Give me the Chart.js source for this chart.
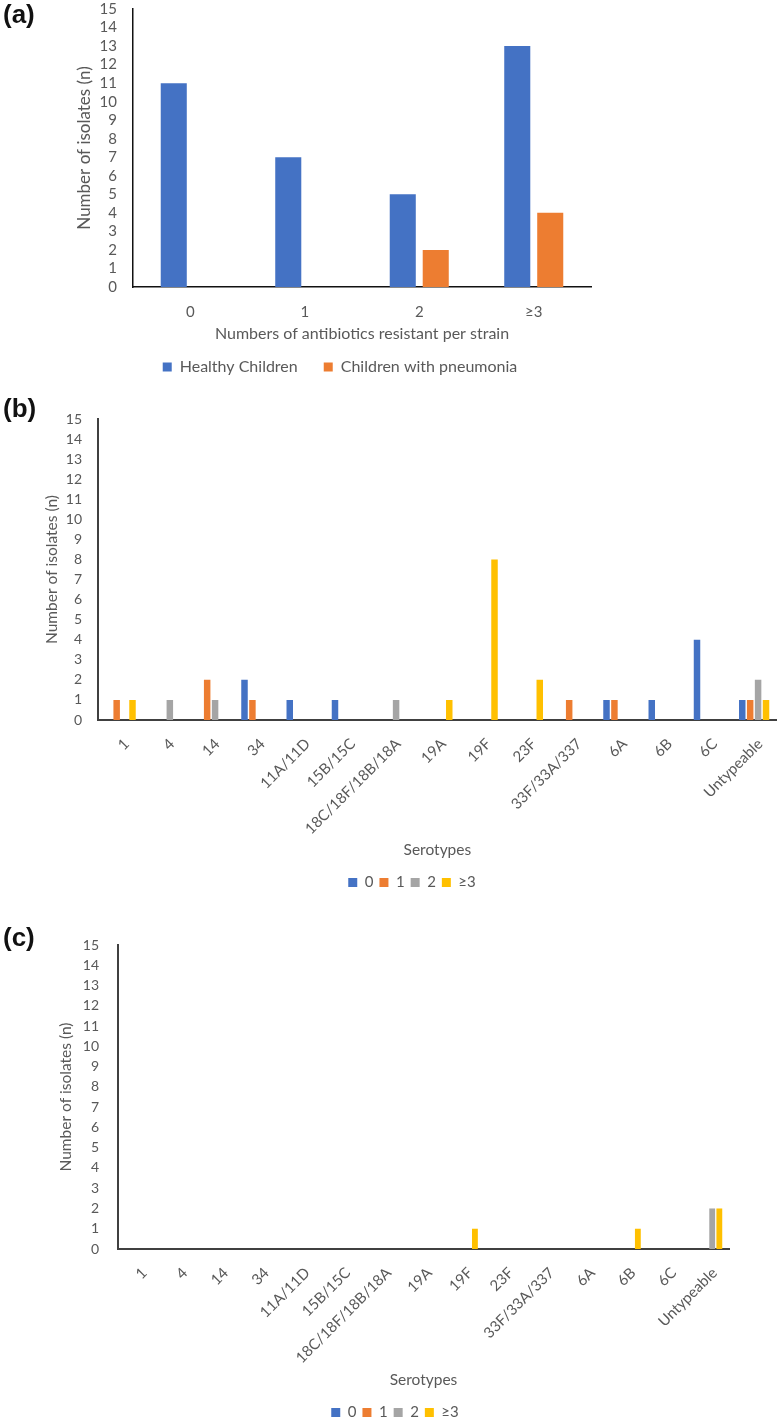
<!DOCTYPE html>
<html>
<head>
<meta charset="utf-8">
<script src="https://cdn.jsdelivr.net/npm/chart.js@4.4.1/dist/chart.umd.min.js"></script>
<style>
  body { margin: 0; background: #fff; width: 782px; height: 1424px; overflow: hidden; position: relative; }
  canvas { position: absolute; left: 0; }
  .panel-tag { position: absolute; left: 3px; font: bold 26px "Liberation Sans", Arial, sans-serif; color: #111; z-index: 2; }
</style>
</head>
<body>
<div class="panel-tag" style="top:-1px">(a)</div>
<canvas id="chartA" width="782" height="395" style="top:0"></canvas>
<div class="panel-tag" style="top:393px">(b)</div>
<canvas id="chartB" width="782" height="500" style="top:400px"></canvas>
<div class="panel-tag" style="top:922px">(c)</div>
<canvas id="chartC" width="782" height="530" style="top:900px"></canvas>

<script>
// (a) antibiotics resistant per strain
const resistanceLabels = ['0', '1', '2', '≥3'];
const healthyCounts = [11, 7, 5, 13];
const pneumoniaCounts = [0, 0, 2, 4];

// (b) and (c) serotypes
const serotypeLabels = ['1', '4', '14', '34', '11A/11D', '15B/15C', '18C/18F/18B/18A', '19A', '19F', '23F', '33F/33A/337', '6A', '6B', '6C', 'Untypeable'];
const groupLabels = ['0', '1', '2', '≥3'];

// (b) healthy children, one array per resistance group
const healthyGroup0 = [0, 0, 0, 2, 1, 1, 0, 0, 0, 0, 0, 1, 1, 4, 1];
const healthyGroup1 = [1, 0, 2, 1, 0, 0, 0, 0, 0, 0, 1, 1, 0, 0, 1];
const healthyGroup2 = [0, 1, 1, 0, 0, 0, 1, 0, 0, 0, 0, 0, 0, 0, 2];
const healthyGroup3 = [1, 0, 0, 0, 0, 0, 0, 1, 8, 2, 0, 0, 0, 0, 1];

// (c) children with pneumonia
const pneumoniaGroup0 = [0, 0, 0, 0, 0, 0, 0, 0, 0, 0, 0, 0, 0, 0, 0];
const pneumoniaGroup1 = [0, 0, 0, 0, 0, 0, 0, 0, 0, 0, 0, 0, 0, 0, 0];
const pneumoniaGroup2 = [0, 0, 0, 0, 0, 0, 0, 0, 0, 0, 0, 0, 0, 0, 2];
const pneumoniaGroup3 = [0, 0, 0, 0, 0, 0, 0, 0, 1, 0, 0, 0, 1, 0, 2];

const yTickValues = [0, 15]; // min / max of the count axis

const textColor = '#595959';
const fontFamily = 'Lato, "Open Sans", sans-serif';
const groupColors = ['#4472C4', '#ED7D31', '#A5A5A5', '#FFC000'];

// Panel (a)
new Chart(document.getElementById('chartA'), {
    type: 'bar',
    data: {
        labels: resistanceLabels,
        datasets: [
            { label: 'Healthy Children', data: healthyCounts, backgroundColor: groupColors[0] },
            { label: 'Children with pneumonia', data: pneumoniaCounts, backgroundColor: groupColors[1] }
        ]
    },
    options: {
        responsive: false,
        animation: false,
        datasets: { bar: { categoryPercentage: 0.576, barPercentage: 0.79 } },
        layout: { padding: { top: 9, left: 89, right: 191, bottom: 10 } },
        plugins: {
            legend: {
                position: 'bottom',
                labels: { boxWidth: 9, boxHeight: 9, padding: 26, color: textColor, font: { family: fontFamily, size: 16 } }
            },
            tooltip: { enabled: false }
        },
        scales: {
            x: {
                grid: { display: false, drawTicks: false },
                border: { display: true, color: '#111', width: 1.5 },
                ticks: { color: textColor, font: { family: fontFamily, size: 15 }, padding: 16 },
                title: { display: true, text: 'Numbers of antibiotics resistant per strain', color: textColor, font: { family: fontFamily, size: 16 }, padding: { top: 0, bottom: -10.6 } },
                afterFit: scale => { scale.height = 46; }
            },
            y: {
                min: yTickValues[0], max: yTickValues[1],
                grid: { display: false, drawTicks: true, tickLength: 16 },
                border: { display: true, color: '#111', width: 1.5 },
                ticks: { stepSize: 1, autoSkip: false, color: textColor, font: { family: fontFamily, size: 15 }, padding: 0 },
                title: { display: true, text: 'Number of isolates (n)', color: textColor, font: { family: fontFamily, size: 17 }, padding: { top: -14.2, bottom: 0 } },
                afterFit: scale => { scale.width = 44; }
            }
        }
    }
});

// Panels (b) and (c) share the same look
function serotypeChart(canvasId, seriesValues, pad, yWidth, yTitlePad, yTickGap, xHeight) {
    return new Chart(document.getElementById(canvasId), {
        type: 'bar',
        data: {
            labels: serotypeLabels,
            datasets: seriesValues.map((values, i) => ({
                label: groupLabels[i],
                data: values,
                backgroundColor: groupColors[i]
            }))
        },
        options: {
            responsive: false,
            animation: false,
            datasets: { bar: { categoryPercentage: 0.7, barPercentage: 0.82 } },
            layout: { padding: pad },
            plugins: {
                legend: {
                    position: 'bottom',
                    labels: { boxWidth: 9, boxHeight: 9, padding: 6, color: textColor, font: { family: fontFamily, size: 15 } }
                },
                tooltip: { enabled: false }
            },
            scales: {
                x: {
                    grid: { display: false, drawTicks: false },
                    border: { display: true, color: '#404040', width: 2 },
                    ticks: { autoSkip: false, minRotation: 45, maxRotation: 45, labelOffset: 6, color: textColor, font: { family: fontFamily, size: 15 }, padding: 15 },
                    title: { display: true, text: 'Serotypes', color: textColor, font: { family: fontFamily, size: 15.5 }, padding: { top: 0, bottom: 9.7 } },
                    afterFit: scale => { scale.height = xHeight; }
                },
                y: {
                    min: yTickValues[0], max: yTickValues[1],
                    grid: { display: false, drawTicks: true, tickLength: yTickGap },
                    border: { display: true, color: '#404040', width: 2 },
                    ticks: { stepSize: 1, autoSkip: false, color: textColor, font: { family: fontFamily, size: 14 }, padding: 0 },
                    title: { display: true, text: 'Number of isolates (n)', color: textColor, font: { family: fontFamily, size: 15.5 }, padding: { top: yTitlePad, bottom: 0 } },
                    afterFit: scale => { scale.width = yWidth; }
                }
            }
        }
    });
}

serotypeChart('chartB', [healthyGroup0, healthyGroup1, healthyGroup2, healthyGroup3],
    { top: 19, left: 46, right: 4, bottom: 0 }, 52, -3.3, 16, 149);

serotypeChart('chartC', [pneumoniaGroup0, pneumoniaGroup1, pneumoniaGroup2, pneumoniaGroup3],
    { top: 45, left: 61, right: 53, bottom: 0 }, 57, -4.3, 19, 150);
</script>
</body>
</html>
